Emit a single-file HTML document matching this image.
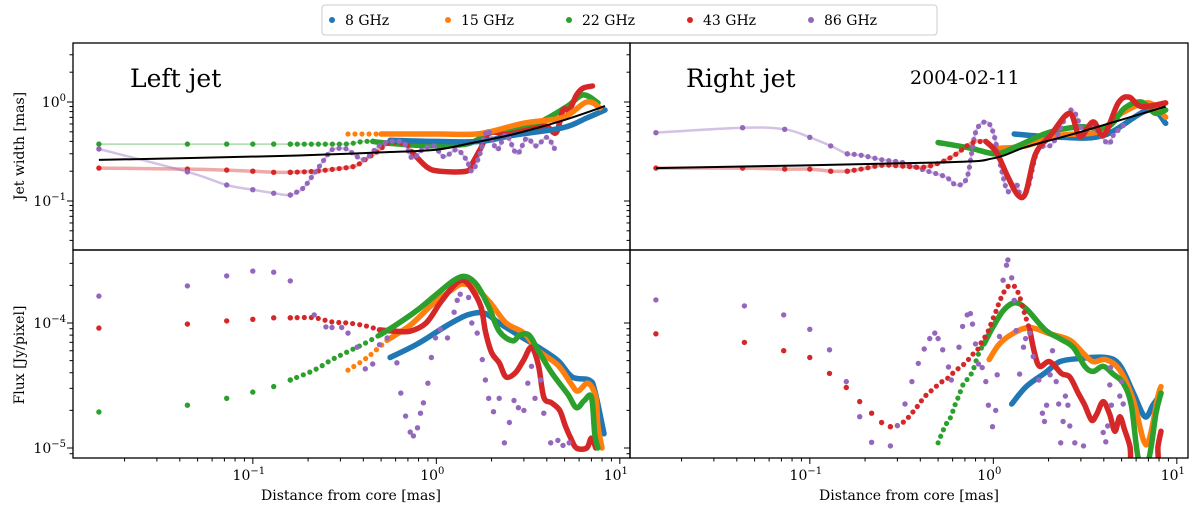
<!DOCTYPE html>
<html><head><meta charset="utf-8">
<style>
html,body{margin:0;padding:0;background:#fff;}
svg{display:block;font-family:"DejaVu Serif","Liberation Serif",serif;}
</style></head>
<body>
<svg id="chart" width="1200" height="510" viewBox="0 0 1200 510" xmlns="http://www.w3.org/2000/svg">
<defs>
<clipPath id="cTL"><rect x="73" y="43" width="557" height="207"/></clipPath>
<clipPath id="cTR"><rect x="630" y="43" width="558" height="207"/></clipPath>
<clipPath id="cBL"><rect x="73" y="250" width="557" height="208"/></clipPath>
<clipPath id="cBR"><rect x="630" y="250" width="558" height="208"/></clipPath>
</defs>
<g id="marks"></g>
<g id="axes"></g>
<text x="130" y="87" font-size="25">Left jet</text>
<text x="686" y="87" font-size="25">Right jet</text>
<text x="910" y="84" font-size="19">2004-02-11</text>
<text x="0" y="0" font-size="14" text-anchor="middle" transform="translate(24,146) rotate(-90)">Jet width [mas]</text>
<text x="0" y="0" font-size="14" text-anchor="middle" transform="translate(24,355) rotate(-90)">Flux [Jy/pixel]</text>
<text x="351" y="500" font-size="14" text-anchor="middle">Distance from core [mas]</text>
<text x="909" y="500" font-size="14" text-anchor="middle">Distance from core [mas]</text>
<g>
<rect x="322" y="5" width="615" height="30" rx="3" fill="#fff" stroke="#ccc"/>
<circle cx="332" cy="20" r="3" fill="#1f77b4"/><text x="345" y="25" font-size="14">8 GHz</text>
<circle cx="448" cy="20" r="3" fill="#ff7f0e"/><text x="461" y="25" font-size="14">15 GHz</text>
<circle cx="569" cy="20" r="3" fill="#2ca02c"/><text x="582" y="25" font-size="14">22 GHz</text>
<circle cx="690" cy="20" r="3" fill="#d62728"/><text x="703" y="25" font-size="14">43 GHz</text>
<circle cx="811" cy="20" r="3" fill="#9467bd"/><text x="824" y="25" font-size="14">86 GHz</text>
</g>
</svg>
<script>
// ---------- data (distance in mas, width in mas, flux in Jy/pixel) ----------
const tlBlueX=[0.56,1.0,1.73,2.6,4.9,6.6,8.3];
const tlBlueY=[0.41,0.40,0.40,0.46,0.55,0.69,0.83];
const tlOrangeX=[0.33,0.5,1.0,1.73,2.97,4.9,6.6,7.8];
const tlOrangeY=[0.475,0.475,0.475,0.48,0.61,0.70,1.0,0.87];
const tlGreenX=[0.0145,0.044,0.072,0.1,0.13,0.16,0.19,0.22,0.25,0.28,0.31,0.34,0.37,0.4,0.45,0.5,0.7,1.0,1.5,2.03,3.36,5.1,6.3,7.6];
const tlGreenY=[0.376,0.376,0.376,0.376,0.376,0.376,0.376,0.376,0.376,0.376,0.376,0.38,0.39,0.40,0.40,0.39,0.37,0.36,0.38,0.50,0.585,0.89,1.18,0.98];
const tlRedX=[0.0145,0.044,0.072,0.1,0.13,0.16,0.19,0.22,0.25,0.28,0.31,0.34,0.37,0.42,0.47,0.52,0.56,0.62,0.69,0.74,0.89,1.04,1.46,1.57,1.73,1.95,2.4,2.85,3.6,4.0,4.5,4.9,5.3,5.8,6.3,7.1];
const tlRedY=[0.215,0.21,0.205,0.20,0.195,0.195,0.197,0.20,0.205,0.21,0.215,0.22,0.23,0.27,0.31,0.36,0.39,0.39,0.37,0.31,0.22,0.20,0.20,0.24,0.33,0.49,0.47,0.50,0.55,0.57,0.49,0.83,0.83,1.17,1.38,1.45];
const tlPurpleX=[0.0145,0.044,0.072,0.1,0.13,0.16,0.188,0.216,0.246,0.27,0.305,0.33,0.37,0.41,0.47,0.53,0.66,0.74,0.84,0.97,1.1,1.29,1.46,1.57,1.73,1.9,2.14,2.4,2.75,3.1,3.5,4.0,4.4];
const tlPurpleY=[0.335,0.197,0.145,0.13,0.12,0.115,0.135,0.19,0.265,0.33,0.34,0.33,0.28,0.265,0.34,0.39,0.39,0.27,0.33,0.36,0.28,0.33,0.26,0.20,0.30,0.52,0.33,0.47,0.30,0.43,0.36,0.44,0.34];
const tlFitX=[0.0145,0.14,0.5,1.0,1.5,2.6,5,8.3];
const tlFitY=[0.26,0.285,0.31,0.33,0.38,0.47,0.66,0.91];
const trBlueX=[1.3,2.3,4.0,7.0,8.7];
const trBlueY=[0.475,0.44,0.46,0.83,0.61];
const trOrangeX=[1.04,1.5,2.3,3.7,5.0,7.0,8.7];
const trOrangeY=[0.34,0.36,0.46,0.50,0.77,0.98,0.70];
const trGreenX=[0.5,0.76,1.04,1.36,1.98,2.9,4.2,5.2,6.4,7.6,8.7];
const trGreenY=[0.39,0.34,0.30,0.36,0.49,0.56,0.56,0.87,1.0,0.77,0.83];
const trRedX=[0.0145,0.043,0.073,0.1,0.13,0.16,0.19,0.25,0.32,0.42,0.53,0.63,0.76,0.91,1.04,1.2,1.36,1.5,1.7,2.05,2.6,2.96,3.5,4.0,4.8,5.5,6.4,8.7];
const trRedY=[0.215,0.215,0.21,0.21,0.20,0.20,0.21,0.23,0.225,0.22,0.25,0.30,0.385,0.40,0.31,0.175,0.115,0.12,0.30,0.46,0.77,0.45,0.63,0.46,0.98,1.12,0.9,0.98];
const trPurpleX=[0.0145,0.043,0.073,0.1,0.13,0.16,0.19,0.25,0.32,0.42,0.55,0.63,0.72,0.8,0.91,1.0,1.1,1.2,1.33,1.42,1.55,1.75,2.1,2.65,3.1,3.4,4.2,4.5,5.2];
const trPurpleY=[0.49,0.55,0.53,0.44,0.36,0.30,0.29,0.26,0.245,0.205,0.175,0.145,0.175,0.49,0.63,0.49,0.22,0.125,0.15,0.11,0.14,0.33,0.38,0.83,0.49,0.6,0.38,0.46,0.6];
const trFitX=[0.0145,0.5,1.0,1.5,3,8.7];
const trFitY=[0.215,0.245,0.27,0.35,0.5,0.9];
const blBlueX=[0.56,0.79,1.15,1.48,1.82,2.2,2.8,3.6,4.6,5.5,6.8,7.3,8.2];
const blBlueY=[5.3e-5,6.8e-5,9.6e-5,1.16e-4,1.2e-4,1e-4,8e-5,6.4e-5,5e-5,3.7e-5,3.5e-5,2.9e-5,1.3e-5];
const blOrangeX=[0.33,0.42,0.54,0.72,0.95,1.25,1.4,1.64,1.97,2.4,3.0,3.6,4.6,5.4,5.9,6.7,7.4,7.6,8.0];
const blOrangeY=[4.2e-5,5.3e-5,7.3e-5,9.6e-5,1.4e-4,1.9e-4,2.05e-4,1.9e-4,1.45e-4,1e-4,8.3e-5,6e-5,4.6e-5,3.3e-5,2.85e-5,3.3e-5,2.55e-5,1.5e-5,1e-5];
const blGreenX=[0.0145,0.044,0.072,0.1,0.13,0.16,0.216,0.27,0.33,0.41,0.49,0.6,0.79,0.99,1.25,1.45,1.67,1.93,2.2,2.6,2.85,3.2,3.6,4.25,5.2,5.8,6.4,7.0,7.3,7.6];
const blGreenY=[1.94e-5,2.2e-5,2.5e-5,2.8e-5,3.1e-5,3.5e-5,4.2e-5,5.1e-5,5.9e-5,6.9e-5,8e-5,9.6e-5,1.27e-4,1.67e-4,2.2e-4,2.35e-4,2e-4,1.35e-4,8.6e-5,7.2e-5,8e-5,8e-5,6e-5,4e-5,2.7e-5,2.1e-5,2.4e-5,2.55e-5,1.3e-5,1e-5];
const blRedX=[0.0145,0.044,0.072,0.1,0.13,0.16,0.216,0.27,0.33,0.41,0.49,0.6,0.72,0.88,1.05,1.25,1.4,1.55,1.75,1.85,2.0,2.2,2.4,2.7,3.0,3.3,3.6,3.85,4.25,4.7,5.05,5.4,5.8,6.6,7.0,7.4];
const blRedY=[9.1e-5,9.8e-5,1.04e-4,1.07e-4,1.1e-4,1.1e-4,1.1e-4,1.02e-4,1e-4,9.5e-5,8.8e-5,8.6e-5,8.6e-5,1e-4,1.45e-4,2.0e-4,2.2e-4,1.9e-4,1.35e-4,8.6e-5,5.8e-5,4.8e-5,3.7e-5,4e-5,5.1e-5,6.4e-5,4.6e-5,2.55e-5,2.3e-5,2e-5,1.5e-5,1.2e-5,1e-5,1e-5,1.2e-5,1e-5];
const blPurpleX=[0.0145,0.044,0.072,0.1,0.13,0.16,0.216,0.25,0.27,0.305,0.33,0.37,0.41,0.45,0.49,0.54,0.61,0.64,0.68,0.72,0.75,0.79,0.82,0.85,0.9,0.94,0.99,1.05,1.15,1.25,1.3,1.35,1.5,1.56,1.67,1.78,1.85,1.93,2.05,2.2,2.35,2.5,2.65,2.8,3.0,3.15,3.3,3.45,3.7,3.85,4.2,4.6,4.9,5.3];
const blPurpleY=[1.64e-4,1.98e-4,2.38e-4,2.6e-4,2.55e-4,2.17e-4,1.16e-4,9.3e-5,9.2e-5,9.2e-5,8.3e-5,6.4e-5,4.3e-5,4.7e-5,6.7e-5,7.6e-5,4.8e-5,2.75e-5,1.8e-5,1.34e-5,1.25e-5,1.45e-5,1.9e-5,2.3e-5,3.3e-5,5.3e-5,7.6e-5,8.9e-5,7.6e-5,1.22e-4,1.52e-4,1.7e-4,1.6e-4,1e-4,8.3e-5,5.1e-5,3.5e-5,2.5e-5,1.95e-5,2.5e-5,1.1e-5,1.6e-5,2.4e-5,2.1e-5,2e-5,3.3e-5,4.5e-5,2.5e-5,3.5e-5,1.9e-5,1.1e-5,1.15e-5,1.05e-5,1.1e-5];
const brBlueX=[1.26,1.51,1.92,2.3,2.95,4.1,4.89,5.8,6.7,7.4,8.2];
const brBlueY=[2.25e-5,3.1e-5,4.0e-5,4.9e-5,5.2e-5,5.3e-5,4.6e-5,2.75e-5,1.78e-5,2.2e-5,2.75e-5];
const brOrangeX=[0.95,1.08,1.29,1.58,2.03,2.61,3.1,3.5,4.1,4.89,5.8,6.6,7.1,7.9,8.2];
const brOrangeY=[5.1e-5,6.8e-5,8.3e-5,9.2e-5,8.2e-5,7.3e-5,5.7e-5,4.9e-5,5.1e-5,4.2e-5,2.4e-5,1.14e-5,1.2e-5,2.6e-5,3.1e-5];
const brGreenX=[0.50,0.53,0.56,0.59,0.61,0.64,0.66,0.69,0.74,0.78,0.82,0.85,0.89,1.0,1.14,1.31,1.51,1.92,2.3,2.72,3.15,3.5,3.97,4.5,5.1,5.65,6.2,7.0,7.7,8.2];
const brGreenY=[1.1e-5,1.36e-5,1.6e-5,1.8e-5,2.1e-5,2.5e-5,2.8e-5,3.3e-5,3.7e-5,4.3e-5,5.4e-5,6.1e-5,6.8e-5,9.4e-5,1.27e-4,1.45e-4,1.3e-4,8.8e-5,7.5e-5,6.4e-5,4.5e-5,4.1e-5,4.5e-5,3.9e-5,3.3e-5,2.2e-5,8e-6,8e-6,1.9e-5,2.75e-5];
const brRedX=[0.0145,0.044,0.072,0.1,0.128,0.158,0.187,0.217,0.246,0.275,0.30,0.33,0.36,0.39,0.42,0.45,0.48,0.50,0.54,0.57,0.60,0.66,0.70,0.74,0.78,0.82,0.85,0.89,0.94,0.99,1.04,1.09,1.16,1.23,1.31,1.39,1.48,1.58,1.68,1.79,2.03,2.35,2.61,2.9,3.15,3.43,3.65,3.97,4.31,4.6,4.89,5.2,5.55,5.8,7.7,7.9,8.2];
const brRedY=[8.2e-5,7e-5,6e-5,5.3e-5,3.95e-5,3.05e-5,2.35e-5,1.9e-5,1.6e-5,1.48e-5,1.51e-5,1.65e-5,1.9e-5,2.2e-5,2.55e-5,2.8e-5,3.05e-5,3.2e-5,3.5e-5,3.65e-5,3.95e-5,4.45e-5,4.75e-5,5.2e-5,5.7e-5,6.1e-5,6.8e-5,7.5e-5,8.7e-5,1.06e-4,1.27e-4,1.53e-4,1.84e-4,2.0e-4,1.95e-4,1.63e-4,1.19e-4,8.8e-5,5.7e-5,4.5e-5,4.9e-5,3.95e-5,3.7e-5,2.75e-5,2.2e-5,1.67e-5,1.85e-5,2.35e-5,1.85e-5,1.36e-5,1.78e-5,1.39e-5,1.03e-5,7e-6,7e-6,1.03e-5,1.36e-5];
const brPurpleX=[0.0145,0.044,0.072,0.1,0.128,0.158,0.187,0.217,0.275,0.30,0.33,0.36,0.39,0.42,0.45,0.48,0.50,0.53,0.57,0.59,0.65,0.68,0.72,0.75,0.77,0.80,0.83,0.87,0.91,0.94,0.99,1.03,1.05,1.08,1.13,1.18,1.2,1.26,1.3,1.33,1.39,1.46,1.5,1.58,1.65,1.77,1.85,1.9,1.95,2.04,2.1,2.2,2.27,2.33,2.4,2.47,2.55,2.61,2.78,3.1,3.97,4.1,4.2,4.31,4.35,4.4,4.89,5.0,5.1];
const brPurpleY=[1.53e-4,1.37e-4,1.16e-4,8.9e-5,6.1e-5,3.4e-5,1.78e-5,1.11e-5,1.04e-5,1.51e-5,2.25e-5,3.4e-5,4.75e-5,6.2e-5,7.5e-5,8.3e-5,7.5e-5,6.1e-5,4.45e-5,3.5e-5,6.4e-5,9.4e-5,1.16e-4,1.19e-4,9.8e-5,6.8e-5,4.7e-5,4.4e-5,3.4e-5,2.2e-5,1.48e-5,2.0e-5,3.85e-5,7.8e-5,2.2e-4,2.9e-4,3.2e-4,2.3e-4,1.52e-4,8.7e-5,3.9e-5,6.4e-5,7.5e-5,8.3e-5,5.4e-5,3.5e-5,1.9e-5,1.63e-5,2.2e-5,3.85e-5,6e-5,3.4e-5,2.25e-5,1.1e-5,1.63e-5,2.6e-5,2.2e-5,1.5e-5,1.1e-5,1.04e-5,1.33e-5,1.12e-5,1.5e-5,3.2e-5,4.4e-5,2.2e-5,2.6e-5,3.4e-5,2.25e-5];
const xTickLabels=["-1","0","1"];
const xTickValues=[0.1,1,10];
const topTickValues=[0.1,1];
const topTickLabels=["-1","0"];
const botTickValues=[1e-5,1e-4];
const botTickLabels=["-5","-4"];

// ---------- axes geometry ----------
const NS="http://www.w3.org/2000/svg";
const XMINLOG=-1.98, PXDEC=183.5;
const panels={
  TL:{x0:73,x1:630,y0:43,y1:250,top:true},
  TR:{x0:630,x1:1188,y0:43,y1:250,top:true},
  BL:{x0:73,x1:630,y0:250,y1:458,top:false},
  BR:{x0:630,x1:1188,y0:250,y1:458,top:false}
};
function xs(p,v){return p.x0+(Math.log10(v)-XMINLOG)*PXDEC;}
function ys(p,v){return p.top? 102-Math.log10(v)*99 : 323-(Math.log10(v)+4)*125;}
const COL={blue:"#1f77b4",orange:"#ff7f0e",green:"#2ca02c",red:"#d62728",purple:"#9467bd"};
const marks=document.getElementById('marks');
const axes=document.getElementById('axes');
function mk(tag,attrs,parent){const e=document.createElementNS(NS,tag);for(const k in attrs)e.setAttribute(k,attrs[k]);(parent||marks).appendChild(e);return e;}
function smoothPath(pts){
  if(pts.length<2)return "";
  let d="M"+pts[0][0].toFixed(1)+","+pts[0][1].toFixed(1);
  for(let i=0;i<pts.length-1;i++){
    const p0=pts[Math.max(0,i-1)],p1=pts[i],p2=pts[i+1],p3=pts[Math.min(pts.length-1,i+2)];
    const c1x=p1[0]+(p2[0]-p0[0])/6,c1y=p1[1]+(p2[1]-p0[1])/6;
    const c2x=p2[0]-(p3[0]-p1[0])/6,c2y=p2[1]-(p3[1]-p1[1])/6;
    d+=" C"+c1x.toFixed(1)+","+c1y.toFixed(1)+" "+c2x.toFixed(1)+","+c2y.toFixed(1)+" "+p2[0].toFixed(1)+","+p2[1].toFixed(1);
  }
  return d;
}
function drawSeries(pk,X,Y,color,dotFrom,denseFrom,faint,name){
  const p=panels[pk];
  const g=mk('g',{'clip-path':'url(#c'+pk+')'});
  
  
  const n=Math.min(X.length,Y.length);
  const pts=[];for(let i=0;i<n;i++)pts.push([xs(p,X[i]),ys(p,Y[i])]);
  if(faint>0){
    const fl=mk('path',{d:smoothPath(pts),fill:'none',stroke:color,'stroke-width':faint,'stroke-opacity':0.4},g);
    
    
  }
  const dotted=[],dense=[];
  for(let i=0;i<n;i++){
    if(X[i]>=denseFrom){ if(dense.length===0&&i>0)dense.push(pts[i-1]); dense.push(pts[i]); }
    else if(X[i]>=dotFrom){ if(dotted.length===0&&i>0)dotted.push(pts[i-1]); dotted.push(pts[i]); }
    else{
      const c=mk('circle',{cx:pts[i][0].toFixed(1),cy:pts[i][1].toFixed(1),r:2.7,fill:color},g);
      
      
    }
  }
  if(dotted.length>1){
    const l=mk('path',{d:smoothPath(dotted),fill:'none',stroke:color,'stroke-width':5.2,'stroke-linecap':'round','stroke-dasharray':'0 7'},g);
    
    
  }
  if(dense.length>1){
    const l=mk('path',{d:smoothPath(dense),fill:'none',stroke:color,'stroke-width':5.5,'stroke-linecap':'round','stroke-linejoin':'round'},g);
    
    
  }
}
function drawFit(pk,X,Y,name){
  const p=panels[pk];
  const g=mk('g',{'clip-path':'url(#c'+pk+')'});
  const pts=X.map((v,i)=>[xs(p,v),ys(p,Y[i])]);
  const l=mk('path',{d:smoothPath(pts),fill:'none',stroke:'#000','stroke-width':2},g);
  
  
}
const BIG=1e9;
drawSeries('TL',tlGreenX,tlGreenY,COL.green,0.17,0.5,1.5,'tl-22ghz');
drawSeries('TL',tlRedX,tlRedY,COL.red,0.17,0.8,3.5,'tl-43ghz');
drawSeries('TL',tlBlueX,tlBlueY,COL.blue,0,0,0,'tl-8ghz');
drawSeries('TL',tlOrangeX,tlOrangeY,COL.orange,0,1.0,0,'tl-15ghz');
drawSeries('TL',tlPurpleX,tlPurpleY,COL.purple,0.17,BIG,2.5,'tl-86ghz');
drawFit('TL',tlFitX,tlFitY,'tl-fit-line');
drawSeries('TR',trBlueX,trBlueY,COL.blue,0,0,0,'tr-8ghz');
drawSeries('TR',trOrangeX,trOrangeY,COL.orange,0,0,0,'tr-15ghz');
drawSeries('TR',trGreenX,trGreenY,COL.green,0,0.75,0,'tr-22ghz');
drawSeries('TR',trPurpleX,trPurpleY,COL.purple,0.17,BIG,2.5,'tr-86ghz');
drawSeries('TR',trRedX,trRedY,COL.red,0.17,1.0,3.5,'tr-43ghz');
drawFit('TR',trFitX,trFitY,'tr-fit-line');
drawSeries('BL',blBlueX,blBlueY,COL.blue,0,0,0,'bl-8ghz');
drawSeries('BL',blOrangeX,blOrangeY,COL.orange,0,0.6,0,'bl-15ghz');
drawSeries('BL',blRedX,blRedY,COL.red,0.17,0.6,0,'bl-43ghz');
drawSeries('BL',blGreenX,blGreenY,COL.green,0.17,0.55,0,'bl-22ghz');
drawSeries('BL',blPurpleX,blPurpleY,COL.purple,BIG,BIG,0,'bl-86ghz');
drawSeries('BR',brBlueX,brBlueY,COL.blue,0,0,0,'br-8ghz');
drawSeries('BR',brOrangeX,brOrangeY,COL.orange,0,0,0,'br-15ghz');
drawSeries('BR',brGreenX,brGreenY,COL.green,0,0.95,0,'br-22ghz');
drawSeries('BR',brRedX,brRedY,COL.red,0.3,1.6,0,'br-43ghz');
drawSeries('BR',brPurpleX,brPurpleY,COL.purple,BIG,BIG,0,'br-86ghz');

function line(x1,y1,x2,y2,w,name){const l=mk('line',{x1:x1,y1:y1,x2:x2,y2:y2,stroke:'#000','stroke-width':w||1},axes);return l;}
function powLabel(x,y,expo,anchor,name){
  const t=mk('text',{x:x,y:y,'font-size':14,'text-anchor':anchor},axes);
  
  
  const a=document.createElementNS(NS,'tspan');a.textContent='10';t.appendChild(a);
  const b=document.createElementNS(NS,'tspan');b.setAttribute('dy','-6');b.setAttribute('font-size','10');b.textContent=expo.replace('-','\u2212');t.appendChild(b);
}
for(const k in panels){
  const p=panels[k];
  const r=mk('rect',{x:p.x0,y:p.y0,width:p.x1-p.x0,height:p.y1-p.y0,fill:'none',stroke:'#000','stroke-width':1.3},axes);
  
  
  for(let e=-6;e<=1;e++)for(let m=1;m<=9;m++){
    const v=m*Math.pow(10,e);const y=ys(p,v);
    if(y<p.y0+0.5||y>p.y1-0.5)continue;
    line(p.x0-(m===1?6:3.5),y,p.x0,y,1,'y-tick');
  }
  if(!p.top){
    for(let e=-2;e<=1;e++)for(let m=1;m<=9;m++){
      const v=m*Math.pow(10,e);const x=xs(p,v);
      if(x<p.x0+0.5||x>p.x1-0.5)continue;
      line(x,p.y1,x,p.y1+(m===1?6:3.5),1,'x-tick');
    }
    xTickValues.forEach((v,i)=>powLabel(xs(p,v)-4,p.y1+22,xTickLabels[i],'middle','x-tick-label'));
  }
}
topTickValues.forEach((v,i)=>powLabel(66,ys(panels.TL,v)+5,topTickLabels[i],'end','y-tick-label-width'));
botTickValues.forEach((v,i)=>powLabel(66,ys(panels.BL,v)+5,botTickLabels[i],'end','y-tick-label-flux'));
</script>
</body></html>
